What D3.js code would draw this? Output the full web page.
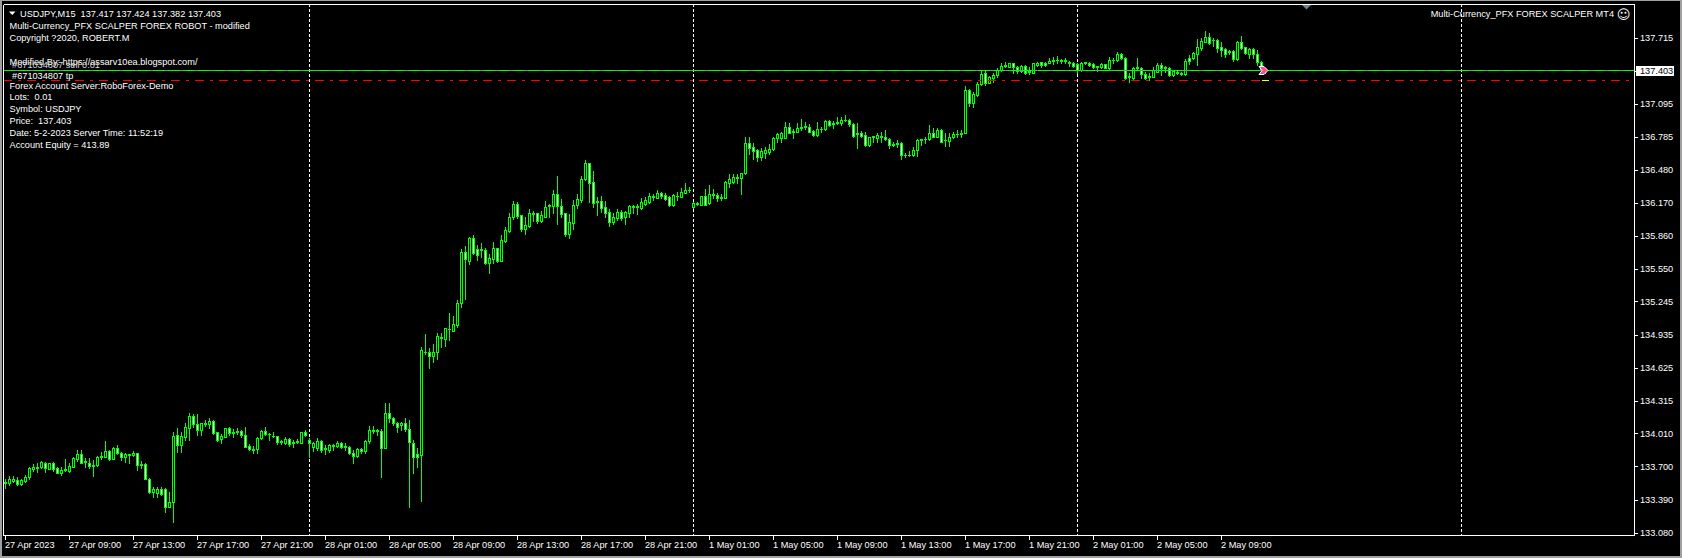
<!DOCTYPE html>
<html><head><meta charset="utf-8">
<script src="https://cdn.jsdelivr.net/npm/d3@7"></script>
<style>html,body{margin:0;padding:0;background:#000;overflow:hidden}</style>
</head><body>
<svg id="chart" width="1682" height="558"></svg>
<script>
const symbol = "USDJPY", timeframe = "M15";
const firstBarTime = Date.UTC(2023, 3, 27, 5, 0);

const opens = [
133.543,133.543,133.567,133.574,133.533,133.567,133.605,133.680,133.692,133.692,
133.736,133.680,133.730,133.683,133.643,133.667,133.661,133.698,133.767,133.814,
133.739,133.736,133.708,133.711,133.786,133.792,133.845,133.774,133.870,133.823,
133.786,133.808,133.805,133.823,133.711,133.720,133.586,133.465,133.449,133.490,
133.490,133.324,133.365,133.995,133.898,133.979,134.064,134.173,134.095,134.042,
134.101,134.095,134.126,134.020,133.954,133.979,134.057,134.017,134.023,134.033,
133.995,133.892,133.858,133.861,133.964,134.033,134.001,133.989,133.986,133.930,
133.923,133.954,133.920,133.930,133.923,134.023,133.945,133.886,133.876,133.939,
133.861,133.855,133.895,133.895,133.917,133.889,133.880,133.830,133.799,133.864,
133.845,133.939,134.039,134.033,134.036,133.876,134.198,134.151,134.111,134.086,
134.111,134.048,133.917,133.817,133.808,134.775,134.769,134.738,134.775,134.906,
134.897,134.984,134.972,135.025,135.228,135.705,135.627,135.839,135.733,135.730,
135.727,135.608,135.643,135.743,135.627,135.814,135.908,136.033,136.155,136.052,
135.927,135.955,136.067,136.070,136.002,136.039,136.139,136.142,136.251,136.139,
136.070,135.877,135.983,136.145,136.195,136.389,136.539,136.364,136.183,136.186,
136.127,136.083,135.992,136.024,136.083,136.033,136.077,136.130,136.130,136.117,
136.158,136.180,136.223,136.217,136.258,136.242,136.220,136.148,136.229,136.226,
136.264,136.286,136.126,136.161,136.148,136.233,136.164,136.245,136.242,136.217,
136.217,136.357,136.367,136.401,136.404,136.445,136.726,136.688,136.663,136.601,
136.638,136.648,136.670,136.772,136.779,136.779,136.882,136.832,136.835,136.872,
136.879,136.882,136.844,136.804,136.857,136.857,136.935,136.910,136.916,136.913,
136.941,136.944,136.907,136.816,136.826,136.804,136.710,136.785,136.779,136.785,
136.782,136.763,136.713,136.723,136.726,136.620,136.616,136.616,136.663,136.760,
136.763,136.763,136.819,136.788,136.850,136.754,136.747,136.782,136.810,136.816,
136.825,137.225,137.106,137.178,137.278,137.381,137.294,137.340,137.362,137.412,
137.450,137.443,137.475,137.437,137.406,137.450,137.394,137.387,137.459,137.484,
137.481,137.481,137.496,137.503,137.503,137.496,137.490,137.481,137.468,137.412,
137.478,137.481,137.468,137.447,137.441,137.466,137.428,137.503,137.506,137.559,
137.522,137.353,137.341,137.431,137.428,137.372,137.347,137.350,137.397,137.459,
137.438,137.434,137.366,137.394,137.384,137.372,137.528,137.522,137.565,137.622,
137.678,137.718,137.690,137.693,137.628,137.606,137.581,137.590,137.516,137.672,
137.625,137.565,137.609,137.559,137.484,137.417];

const highs = [
133.580,133.614,133.614,133.599,133.580,133.620,133.698,133.720,133.730,133.752,
133.745,133.736,133.742,133.698,133.692,133.771,133.730,133.786,133.852,133.855,
133.780,133.777,133.761,133.799,133.839,133.939,133.855,133.886,133.902,133.839,
133.830,133.817,133.845,133.830,133.749,133.730,133.596,133.505,133.511,133.511,
133.496,133.465,134.020,134.057,134.026,134.104,134.198,134.192,134.192,134.111,
134.135,134.151,134.135,134.026,134.004,134.064,134.073,134.048,134.057,134.042,
134.073,133.911,133.895,133.979,134.042,134.070,134.017,134.023,133.986,133.948,
133.979,133.964,133.948,133.954,134.026,134.042,133.964,133.926,133.964,133.948,
133.902,133.908,133.911,133.939,133.933,133.917,133.892,133.855,133.870,133.877,
133.948,134.079,134.079,134.048,134.048,134.292,134.292,134.160,134.120,134.120,
134.151,134.135,133.948,133.870,134.816,134.941,134.806,134.847,134.947,134.947,
135.000,135.134,135.109,135.259,135.736,135.764,135.852,135.868,135.774,135.790,
135.743,135.686,135.802,135.749,135.868,135.939,136.070,136.186,136.176,136.058,
136.036,136.111,136.095,136.077,136.095,136.186,136.158,136.289,136.420,136.201,
136.077,136.064,136.195,136.251,136.420,136.570,136.545,136.467,136.220,136.233,
136.186,136.111,136.070,136.108,136.102,136.095,136.148,136.148,136.158,136.211,
136.220,136.258,136.251,136.289,136.270,136.258,136.233,136.251,136.273,136.304,
136.351,136.314,136.176,136.173,136.233,136.301,136.336,136.295,136.264,136.251,
136.376,136.439,136.439,136.439,136.451,136.788,136.788,136.732,136.670,136.679,
136.695,136.716,136.788,136.826,136.835,136.925,136.919,136.857,136.913,136.950,
136.929,136.907,136.850,136.925,136.876,136.944,136.944,136.938,136.969,136.969,
136.991,136.950,136.913,136.913,136.844,136.835,136.788,136.797,136.826,136.835,
136.850,136.773,136.741,136.757,136.741,136.632,136.657,136.694,136.763,136.769,
136.782,136.897,136.866,136.866,136.857,136.819,136.819,136.835,136.850,136.850,
137.262,137.231,137.209,137.303,137.406,137.406,137.356,137.381,137.428,137.475,
137.490,137.481,137.481,137.450,137.459,137.459,137.437,137.481,137.487,137.490,
137.490,137.521,137.537,137.543,137.512,137.521,137.496,137.487,137.481,137.487,
137.487,137.487,137.481,137.450,137.475,137.472,137.537,137.528,137.578,137.569,
137.531,137.381,137.444,137.522,137.444,137.397,137.381,137.444,137.475,137.475,
137.453,137.444,137.413,137.403,137.397,137.516,137.553,137.584,137.703,137.709,
137.778,137.759,137.709,137.700,137.672,137.615,137.600,137.597,137.684,137.731,
137.631,137.615,137.622,137.600,137.497,137.424];

const lows = [
133.496,133.527,133.555,133.527,133.530,133.558,133.583,133.661,133.652,133.683,
133.646,133.674,133.661,133.636,133.620,133.661,133.652,133.692,133.755,133.730,
133.692,133.683,133.611,133.705,133.767,133.786,133.761,133.767,133.814,133.761,
133.745,133.730,133.799,133.667,133.683,133.580,133.455,133.412,133.412,133.434,
133.278,133.318,133.184,133.839,133.833,133.948,133.948,134.073,133.998,133.995,
134.083,134.064,134.004,133.942,133.917,133.973,133.995,133.979,134.004,133.979,
133.880,133.852,133.830,133.823,133.954,133.995,133.948,133.973,133.908,133.908,
133.908,133.892,133.880,133.917,133.917,133.986,133.792,133.848,133.855,133.839,
133.817,133.839,133.855,133.886,133.870,133.855,133.817,133.730,133.786,133.823,
133.830,133.923,134.011,133.995,133.605,133.870,134.120,134.089,134.026,134.042,
134.036,133.324,133.642,133.698,133.380,134.753,134.625,134.678,134.707,134.822,
134.828,134.884,134.966,135.009,135.197,135.268,135.596,135.690,135.633,135.658,
135.596,135.515,135.608,135.618,135.627,135.805,135.892,136.017,136.027,135.908,
135.877,135.939,136.002,135.977,135.989,136.033,136.039,136.070,135.970,136.033,
135.858,135.843,135.927,136.117,136.176,136.382,136.176,136.133,136.055,136.086,
136.039,135.952,135.967,136.008,136.008,135.970,136.033,136.077,136.064,136.111,
136.148,136.170,136.195,136.211,136.211,136.195,136.142,136.139,136.195,136.220,
136.258,136.267,136.117,136.148,136.145,136.145,136.158,136.211,136.189,136.195,
136.211,136.320,136.351,136.357,136.251,136.439,136.626,136.579,136.563,136.570,
136.585,136.626,136.663,136.741,136.741,136.772,136.819,136.779,136.829,136.850,
136.857,136.829,136.794,136.797,136.835,136.850,136.888,136.866,136.907,136.897,
136.935,136.888,136.788,136.685,136.788,136.701,136.701,136.741,136.741,136.741,
136.757,136.685,136.701,136.695,136.576,136.601,136.610,136.607,136.610,136.710,
136.726,136.757,136.782,136.782,136.735,136.701,136.701,136.772,136.788,136.788,
136.819,137.078,137.069,137.172,137.272,137.272,137.287,137.303,137.350,137.403,
137.437,137.437,137.381,137.387,137.397,137.372,137.375,137.381,137.453,137.443,
137.450,137.475,137.468,137.481,137.475,137.481,137.450,137.443,137.381,137.406,
137.468,137.453,137.428,137.406,137.428,137.428,137.422,137.475,137.497,137.512,
137.328,137.297,137.328,137.413,137.335,137.328,137.319,137.344,137.391,137.366,
137.397,137.360,137.360,137.372,137.366,137.366,137.466,137.512,137.459,137.600,
137.672,137.653,137.640,137.584,137.547,137.538,137.559,137.497,137.506,137.609,
137.559,137.522,137.522,137.459,137.372,137.382];

const closes = [
133.558,133.580,133.580,133.533,133.574,133.605,133.683,133.692,133.683,133.742,
133.683,133.730,133.680,133.643,133.667,133.677,133.701,133.777,133.814,133.736,
133.749,133.708,133.714,133.786,133.799,133.842,133.774,133.870,133.823,133.786,
133.814,133.814,133.830,133.711,133.720,133.586,133.465,133.490,133.490,133.443,
133.324,133.365,133.986,133.901,133.986,134.067,134.173,134.095,134.042,134.104,
134.107,134.126,134.017,133.948,133.986,134.057,134.010,134.023,134.029,133.992,
133.886,133.861,133.864,133.967,134.033,134.001,134.008,133.983,133.933,133.936,
133.954,133.908,133.926,133.936,134.020,133.992,133.917,133.917,133.939,133.855,
133.870,133.898,133.901,133.923,133.886,133.883,133.830,133.799,133.861,133.845,
133.942,134.042,134.033,134.039,133.876,134.198,134.151,134.104,134.073,134.111,
134.048,133.933,133.792,133.792,134.791,134.769,134.738,134.769,134.922,134.916,
134.994,134.991,135.031,135.228,135.705,135.640,135.839,135.696,135.680,135.737,
135.608,135.649,135.743,135.627,135.821,135.914,136.033,136.155,136.045,135.927,
135.958,136.070,136.073,136.002,136.052,136.133,136.145,136.251,136.139,136.064,
135.877,135.986,136.145,136.201,136.389,136.539,136.357,136.170,136.176,136.123,
136.077,135.992,136.033,136.083,136.030,136.083,136.139,136.136,136.136,136.176,
136.195,136.233,136.229,136.258,136.233,136.204,136.148,136.239,136.236,136.273,
136.289,136.292,136.164,136.167,136.233,136.148,136.251,136.251,136.211,136.223,
136.364,136.389,136.407,136.407,136.445,136.726,136.679,136.657,136.601,136.654,
136.663,136.673,136.779,136.810,136.819,136.882,136.826,136.838,136.872,136.879,
136.885,136.835,136.804,136.857,136.863,136.935,136.897,136.916,136.922,136.944,
136.947,136.907,136.794,136.822,136.794,136.710,136.782,136.791,136.804,136.791,
136.763,136.710,136.719,136.729,136.616,136.613,136.620,136.663,136.757,136.766,
136.769,136.819,136.788,136.850,136.741,136.760,136.788,136.813,136.816,136.822,
137.225,137.106,137.187,137.281,137.375,137.294,137.344,137.365,137.412,137.453,
137.456,137.475,137.437,137.406,137.450,137.387,137.400,137.475,137.481,137.459,
137.459,137.496,137.503,137.509,137.496,137.503,137.475,137.450,137.412,137.475,
137.484,137.459,137.437,137.440,137.466,137.434,137.506,137.509,137.559,137.522,
137.341,137.347,137.428,137.438,137.372,137.341,137.353,137.413,137.459,137.434,
137.431,137.366,137.403,137.388,137.378,137.497,137.497,137.575,137.628,137.684,
137.718,137.662,137.697,137.622,137.600,137.559,137.587,137.516,137.672,137.622,
137.569,137.609,137.559,137.484,137.413,137.403];

const priceTicks = [133.080,133.390,133.700,134.010,134.315,134.625,134.935,135.245,135.550,135.860,136.170,136.480,136.785,137.095,137.405,137.715];
const timeTickLabels = ["27 Apr 2023","27 Apr 09:00","27 Apr 13:00","27 Apr 17:00","27 Apr 21:00",
  "28 Apr 01:00","28 Apr 05:00","28 Apr 09:00","28 Apr 13:00","28 Apr 17:00","28 Apr 21:00",
  "1 May 01:00","1 May 05:00","1 May 09:00","1 May 13:00","1 May 17:00","1 May 21:00",
  "2 May 01:00","2 May 05:00","2 May 09:00"];

const bidPrice = 137.403;
const orderOpenPrice = 137.403;
const takeProfitPrice = 137.309;
const orderTicket = "#671034807";
const infoLines = [
  "Multi-Currency_PFX SCALPER FOREX ROBOT - modified",
  "Copyright ?2020, ROBERT.M",
  "",
  "Modified By: https://assarv10ea.blogspot.com/"
];
const statusLines = [
  "Forex Account Server:RoboForex-Demo",
  "Lots:  0.01",
  "Symbol: USDJPY",
  "Price:  137.403",
  "Date: 5-2-2023 Server Time: 11:52:19",
  "Account Equity = 413.89"
];
const eaTitle = "Multi-Currency_PFX FOREX SCALPER MT4";

// ---------- layout ----------
const W = 1682, H = 558;
const plot = {left: 3, top: 4, right: 1634, bottom: 535};
const FONT = "'Liberation Sans', Arial, sans-serif";
const FS = 9.2;
const GREEN = "#00ff00";
const N = closes.length;

const svg = d3.select("#chart").attr("shape-rendering", "crispEdges");
svg.append("rect").attr("width", W).attr("height", H).attr("fill", "#000");

// bar times (M15, weekends skipped), extended past the last bar for the shift area
const barTimes = [];
{
  let t = firstBarTime;
  while (barTimes.length < 420) {
    const d = new Date(t);
    const wd = d.getUTCDay();
    if (wd !== 0 && wd !== 6) barTimes.push(d);
    t += 15 * 60000;
  }
}
const months = ["Jan","Feb","Mar","Apr","May","Jun","Jul","Aug","Sep","Oct","Nov","Dec"];
const pad = n => String(n).padStart(2, "0");
const fmtTime = d => `${d.getUTCDate()} ${months[d.getUTCMonth()]} ${pad(d.getUTCHours())}:${pad(d.getUTCMinutes())}`;

const x = d3.scaleLinear().domain([0, 400]).range([5, 5 + 4 * 400]);
const y = d3.scaleLinear().domain([133.080, 137.715]).range([532.7, 37.7]);
const py = p => Math.round(y(p));

// clip
svg.append("clipPath").attr("id", "plotclip").append("rect")
  .attr("x", plot.left + 1).attr("y", plot.top + 1)
  .attr("width", plot.right - plot.left - 1).attr("height", plot.bottom - plot.top - 1);
const g = svg.append("g").attr("clip-path", "url(#plotclip)");

// period separators (day starts)
const sepIdx = [];
barTimes.forEach((d, i) => { if (i > 0 && d.getUTCHours() === 0 && d.getUTCMinutes() === 0 && x(i) < plot.right) sepIdx.push(i); });
g.selectAll("line.sep").data(sepIdx).join("line")
  .attr("x1", i => x(i) + 0.5).attr("x2", i => x(i) + 0.5)
  .attr("y1", plot.top).attr("y2", plot.bottom)
  .attr("stroke", "#fff").attr("stroke-width", 1).attr("stroke-dasharray", "3,2");

// candles
const bars = d3.range(N).map(i => ({i, o: opens[i], h: highs[i], l: lows[i], c: closes[i]}));
const cg = g.append("g");
cg.selectAll("rect.wick").data(bars).join("rect")
  .attr("x", d => x(d.i)).attr("width", 1)
  .attr("y", d => py(d.h)).attr("height", d => py(d.l) - py(d.h) + 1)
  .attr("fill", GREEN);
cg.selectAll("rect.body").data(bars).join("rect")
  .attr("x", d => x(d.i) - 1).attr("width", 3)
  .attr("y", d => Math.min(py(d.o), py(d.c)))
  .attr("height", d => Math.abs(py(d.o) - py(d.c)) + 1)
  .attr("fill", GREEN);
cg.selectAll("rect.inner").data(bars.filter(d => Math.abs(py(d.o) - py(d.c)) >= 2)).join("rect")
  .attr("x", d => x(d.i)).attr("width", 1)
  .attr("y", d => Math.min(py(d.o), py(d.c)) + 1)
  .attr("height", d => Math.abs(py(d.o) - py(d.c)) - 1)
  .attr("fill", d => d.c >= d.o ? "#000" : "#fff");

// order / price lines
const lineY = p => Math.floor(y(p)) - 0.5;
g.append("line").attr("x1", plot.left).attr("x2", plot.right)
  .attr("y1", lineY(bidPrice)).attr("y2", lineY(bidPrice))
  .attr("stroke", "#778899").attr("stroke-width", 1);
g.append("line").attr("x1", plot.left).attr("x2", plot.right)
  .attr("y1", lineY(orderOpenPrice)).attr("y2", lineY(orderOpenPrice))
  .attr("stroke", GREEN).attr("stroke-width", 1).attr("stroke-dasharray", "12,3");
g.append("line").attr("x1", plot.left).attr("x2", plot.right)
  .attr("y1", lineY(takeProfitPrice)).attr("y2", lineY(takeProfitPrice))
  .attr("stroke", "#ff0000").attr("stroke-width", 1).attr("stroke-dasharray", "9,6,3,6");
// tp marker at last bar
g.append("line").attr("x1", x(N - 1) - 3).attr("x2", x(N - 1) + 4)
  .attr("y1", lineY(takeProfitPrice)).attr("y2", lineY(takeProfitPrice))
  .attr("stroke", "#ffff00").attr("stroke-width", 1);
// open arrow
{
  const ax = x(N - 1), ay = lineY(orderOpenPrice);
  g.append("path")
    .attr("d", `M${ax-6},${ay-4} L${ax-1},${ay-4} L${ax+3},${ay} L${ax-1},${ay+4} L${ax-6},${ay+4} L${ax-3},${ay} Z`)
    .attr("fill", "#ff4d94").attr("stroke", "#fff").attr("stroke-width", 1)
    .attr("shape-rendering", "auto");
}

// frame
svg.append("rect").attr("x", 0).attr("y", 0).attr("width", W).attr("height", 1).attr("fill", "#a0a0a0");
svg.append("rect").attr("x", 0).attr("y", 0).attr("width", 2).attr("height", H).attr("fill", "#a0a0a0");
svg.append("rect").attr("x", W - 2).attr("y", 0).attr("width", 2).attr("height", H).attr("fill", "#a0a0a0");
svg.append("rect").attr("x", 0).attr("y", H - 2).attr("width", W).attr("height", 2).attr("fill", "#a0a0a0");
const border = [[plot.left, plot.top, plot.right, plot.top], [plot.left, plot.top, plot.left, plot.bottom],
                [plot.right, plot.top, plot.right, plot.bottom], [plot.left, plot.bottom, plot.right, plot.bottom]];
svg.selectAll("line.border").data(border).join("line")
  .attr("x1", d => d[0] + 0.5).attr("y1", d => d[1] + 0.5).attr("x2", d => d[2] + 0.5).attr("y2", d => d[3] + 0.5)
  .attr("stroke", "#fff").attr("stroke-width", 1);

// right price axis
const ra = svg.append("g");
ra.selectAll("line.tick").data(priceTicks).join("line")
  .attr("x1", plot.right).attr("x2", plot.right + 4)
  .attr("y1", d => py(d) + 0.5).attr("y2", d => py(d) + 0.5)
  .attr("stroke", "#fff");
ra.selectAll("text").data(priceTicks).join("text")
  .attr("x", plot.right + 6).attr("y", d => y(d) + 3.4)
  .attr("fill", "#fff").attr("font-family", FONT).attr("font-size", FS)
  .text(d => d.toFixed(3));
// bid label
ra.append("rect").attr("x", plot.right + 2).attr("y", lineY(bidPrice) - 4.5).attr("width", 38).attr("height", 10).attr("fill", "#fff");
ra.append("text").attr("x", plot.right + 6).attr("y", lineY(bidPrice) + 3.6)
  .attr("fill", "#000").attr("font-family", FONT).attr("font-size", FS).text(bidPrice.toFixed(3));

// bottom time axis
const tickIdx = timeTickLabels.map((lab, k) => k === 0 ? 0 : barTimes.findIndex(d => fmtTime(d) === lab));
const ta = svg.append("g");
ta.selectAll("line").data(tickIdx).join("line")
  .attr("x1", i => x(i) + 0.5).attr("x2", i => x(i) + 0.5)
  .attr("y1", plot.bottom).attr("y2", plot.bottom + 5).attr("stroke", "#fff");
ta.selectAll("text").data(timeTickLabels).join("text")
  .attr("x", (d, k) => x(tickIdx[k])).attr("y", 548)
  .attr("fill", "#fff").attr("font-family", FONT).attr("font-size", FS).text(d => d);

// header / info texts
const tg = svg.append("g").attr("font-family", FONT).attr("font-size", FS).attr("fill", "#fff");
tg.append("path").attr("d", "M9,11.5 L15.5,11.5 L12.25,15 Z").attr("fill", "#fff").attr("shape-rendering", "auto");
const last = N - 1;
tg.append("text").attr("x", 20).attr("y", 16.5)
  .style("white-space", "pre")
  .text(`${symbol},${timeframe}  ${opens[last].toFixed(3)} ${highs[last].toFixed(3)} ${lows[last].toFixed(3)} ${closes[last].toFixed(3)}`);
infoLines.forEach((s, k) => {
  if (s) tg.append("text").attr("x", 9.5).attr("y", 28.5 + 12 * k).text(s);
});
tg.append("text").attr("x", 9.5).attr("y", lineY(orderOpenPrice) - 3).style("white-space", "pre")
  .attr("fill", "#d8d8d8").text(` ${orderTicket} sell 0.01`);
tg.append("text").attr("x", 9.5).attr("y", lineY(takeProfitPrice) - 2).style("white-space", "pre")
  .text(` ${orderTicket} tp`);
statusLines.forEach((s, k) => {
  tg.append("text").attr("x", 9.5).attr("y", 88.5 + 11.9 * k).style("white-space", "pre").text(s);
});
tg.append("text").attr("x", 1614).attr("y", 16.5).attr("text-anchor", "end").text(eaTitle);
tg.append("text").attr("x", 1623.5).attr("y", 18.5).attr("text-anchor", "middle")
  .attr("font-family", "'DejaVu Sans', sans-serif").attr("font-size", 13).text("\u263A");

// chart shift marker
svg.append("path").attr("d", "M1302,5 L1311,5 L1306.5,9.5 Z").attr("fill", "#708090").attr("shape-rendering", "auto");
</script>
</body></html>
